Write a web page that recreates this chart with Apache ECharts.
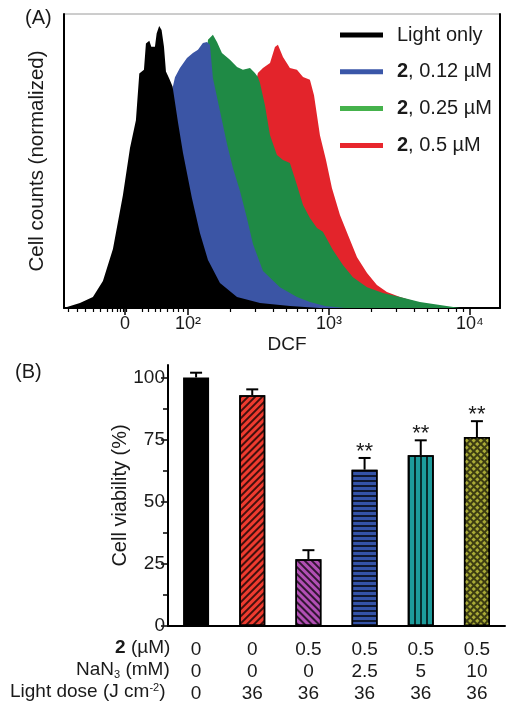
<!DOCTYPE html>
<html><head><meta charset="utf-8">
<script src="https://cdn.jsdelivr.net/npm/echarts@6/dist/echarts.min.js"></script>
<style>html,body{margin:0;padding:0;background:#fff}#c{width:507px;height:706px}</style>
</head><body><div id="c"></div>
<script>
// ---------- Panel A: DCF histograms (x in display decades: 10^2 -> 2, 10^3 -> 3, 10^4 -> 4, "0" -> 1.553) ----------
const lightOnly = [[1.121,0],[1.142,0.3],[1.234,1.7],[1.326,3.7],[1.397,9.2],[1.468,20.1],[1.539,38.4],[1.589,54.4],[1.631,63.9],[1.655,79.8],[1.688,81.0],[1.702,90.0],[1.726,90.9],[1.740,88.9],[1.766,88.9],[1.778,93.4],[1.796,95.9],[1.813,94.6],[1.830,88.9],[1.844,80.4],[1.867,78.1],[1.891,75.3],[1.929,63.3],[1.965,52.7],[2.028,37.4],[2.085,25.5],[2.142,16.3],[2.227,8.5],[2.348,3.7],[2.511,1.7],[2.723,0.7],[2.936,0]];
const dose012 = [[1.447,0],[1.553,1.4],[1.660,5.4],[1.745,16.3],[1.816,36.7],[1.858,60.5],[1.887,74.0],[1.908,78.5],[1.943,81.6],[1.993,85.0],[2.035,86.7],[2.071,87.8],[2.106,90.1],[2.135,90.5],[2.156,89.5],[2.177,78.2],[2.227,67.0],[2.277,55.8],[2.319,47.6],[2.369,39.8],[2.418,30.6],[2.461,21.8],[2.532,12.6],[2.652,7.1],[2.773,3.7],[2.865,2.0],[2.972,0.7],[3.113,0]];
const dose025 = [[1.730,0],[1.872,2.7],[1.979,12.9],[2.050,36.7],[2.106,70.7],[2.142,91.2],[2.177,92.9],[2.206,90.5],[2.241,86.7],[2.298,84.4],[2.348,82.0],[2.390,81.0],[2.440,81.6],[2.475,79.9],[2.496,78.6],[2.511,76.5],[2.546,69.0],[2.582,58.8],[2.631,52.0],[2.674,50.3],[2.723,49.3],[2.773,41.8],[2.816,35.0],[2.865,30.6],[2.915,27.2],[2.957,25.9],[3.028,19.7],[3.099,14.6],[3.170,10.5],[3.270,7.1],[3.383,5.1],[3.504,3.7],[3.645,2.0],[3.787,1.0],[3.929,0]];
const dose05 = [[2.085,0],[2.227,6.1],[2.333,29.9],[2.404,53.7],[2.454,70.7],[2.496,79.9],[2.532,81.6],[2.582,83.3],[2.617,88.8],[2.638,89.5],[2.674,85.4],[2.723,81.6],[2.773,81.0],[2.816,78.6],[2.865,77.6],[2.894,72.4],[2.936,58.8],[2.979,50.3],[3.021,40.8],[3.078,31.6],[3.135,24.8],[3.199,17.3],[3.270,11.9],[3.340,7.8],[3.411,5.4],[3.504,3.7],[3.645,1.7],[3.787,0]];
const seriesNamesA = ['Light only', '2, 0.12 µM', '2, 0.25 µM', '2, 0.5 µM'];
const majorTickPos = [1.553, 2, 3, 4];
const majorTickLabels = ['0', '10²', '10³', '10⁴'];
const linearMinorTicks = [1.149,1.213,1.270,1.326,1.376,1.426,1.461,1.496,1.518,1.540,1.566,1.674,1.716,1.766,1.801,1.851,1.894,1.929,1.965];
const logMinorMultipliers = [2,3,4,5,6,7,8,9];

// ---------- Panel B: cell viability ----------
const groups = ['Dark control', 'Light', '2 + light', '2 + light + 2.5 mM NaN3', '2 + light + 5 mM NaN3', '2 + light + 10 mM NaN3'];
const viability = [100, 92.8, 26.9, 62.9, 68.7, 76.0];
const viabilityErr = [1.9, 2.4, 3.6, 4.7, 6.0, 6.4];
const significance = ['', '', '', '**', '**', '**'];
const compound2uM = ['0', '0', '0.5', '0.5', '0.5', '0.5'];
const nan3mM = ['0', '0', '0', '2.5', '5', '10'];
const lightDose = ['0', '36', '36', '36', '36', '36'];
const yMajor = [0, 25, 50, 75, 100];
const yMinor = [12.5, 37.5, 62.5, 87.5];

// ---------- styles ----------
const FONT = "'Liberation Sans', Arial, Helvetica, sans-serif";
const TXT = '#1a1a1a';
const fillA = ['#000000', '#3b55a5', '#1f8a45', '#e3242b'];
const legendA = ['#000000', '#3a56a8', '#45b24c', '#e8262d'];
const barColors = ['#000000', '#ef3b2f', '#b24fb4', '#3453a8', '#1d9b9b', '#3d3d12'];
const hatch = 'rgba(0,0,0,0.72)';
const decals = [
  null,
  {symbol: 'rect', symbolSize: 1, dashArrayX: [1, 0], dashArrayY: [1.3, 2.9], rotation: -Math.PI / 4, color: hatch},
  {symbol: 'rect', symbolSize: 1, dashArrayX: [1, 0], dashArrayY: [1.3, 2.9], rotation: Math.PI / 4, color: hatch},
  {symbol: 'rect', symbolSize: 1, dashArrayX: [1, 0], dashArrayY: [1.3, 2.5], rotation: 0, color: hatch},
  {symbol: 'rect', symbolSize: 1, dashArrayX: [1.3, 3.2], dashArrayY: [1, 0], rotation: 0, color: hatch},
  {symbol: 'rect', symbolSize: 1, dashArrayX: [2.6, 1.3], dashArrayY: [2.6, 1.3], rotation: Math.PI / 4, color: '#a9ab36'}
];

const logMinorTicks = [];
[2, 3].forEach(d => logMinorMultipliers.forEach(k => logMinorTicks.push(Math.log10(k) + d)));

const chart = echarts.init(document.getElementById('c'), null, {renderer: 'canvas'});

const histSeries = [lightOnly, dose012, dose025, dose05].map((d, i) => ({
  name: seriesNamesA[i], type: 'line', xAxisIndex: 0, yAxisIndex: 0,
  data: d, symbol: 'none', showSymbol: false, smooth: false,
  lineStyle: {width: 0}, itemStyle: {color: legendA[i]},
  areaStyle: {color: fillA[i], opacity: 1}, z: 10 - i, silent: true
}));

const barData = viability.map((v, i) => {
  const st = {color: barColors[i], borderColor: '#000', borderWidth: 1.5};
  if (decals[i]) st.decal = decals[i];
  return {value: v, itemStyle: st};
});

const tok = (extra) => Object.assign({fontSize: 19, lineHeight: 20, fontFamily: FONT, fill: TXT}, extra || {});
const plain = (text, x, y, weight) => ({type: 'text', x: x, y: y,
  style: {text: text, align: 'left', verticalAlign: 'middle', fontSize: 19, fontWeight: weight || 'normal', fontFamily: FONT, fill: TXT}});

const option = {
  animation: false,
  textStyle: {fontFamily: FONT, color: TXT},
  grid: [
    {left: 64, right: 7, top: 14, bottom: 398, show: true, borderColor: '#9a9a9a', borderWidth: 1},
    {left: 168, right: 2, top: 365, bottom: 80}
  ],
  legend: {
    orient: 'vertical', left: 340, top: 25, padding: 0, itemWidth: 43, itemHeight: 5, itemGap: 16.8, icon: 'rect',
    data: seriesNamesA.map((n, i) => ({name: n, itemStyle: {color: legendA[i]}})),
    formatter: n => n.replace(/^2,/, '{b|2},'),
    textStyle: {fontSize: 20, lineHeight: 20, color: TXT, fontFamily: FONT, padding: [0, 0, 0, 9],
      rich: {b: {fontWeight: 'bold', fontSize: 20, lineHeight: 20, color: TXT, fontFamily: FONT}}}
  },
  xAxis: [
    {type: 'value', gridIndex: 0, min: 1.121, max: 4.213, position: 'bottom',
      name: 'DCF', nameLocation: 'middle', nameGap: 27, nameTextStyle: {fontSize: 19, color: TXT, padding: [0, 0, 0, 10]},
      axisLine: {show: true, onZero: false, lineStyle: {color: '#000', width: 2}},
      axisTick: {show: true, customValues: majorTickPos, length: 7, lineStyle: {color: '#000', width: 1.5}},
      axisLabel: {customValues: majorTickPos, margin: 7, fontSize: 18, color: TXT,
        formatter: v => { const k = majorTickPos.findIndex(p => Math.abs(p - v) < 1e-6); return k < 0 ? '' : majorTickLabels[k]; }},
      splitLine: {show: false}},
    // minor ticks: second x axis is placed on top, then moved down onto the bottom axis line
    {type: 'value', gridIndex: 0, min: 1.121, max: 4.213, position: 'top', offset: -294,
      axisLine: {show: false, onZero: false},
      axisTick: {show: true, inside: true, customValues: linearMinorTicks.concat(logMinorTicks), length: 4, lineStyle: {color: '#000', width: 1.2}},
      axisLabel: {show: false}, splitLine: {show: false}},
    {type: 'category', gridIndex: 1, data: groups,
      axisLine: {show: true, lineStyle: {color: '#000', width: 2}},
      axisTick: {show: false},
      axisLabel: {interval: 0, margin: 13, fontSize: 19, lineHeight: 22, color: TXT,
        formatter: (v, i) => [compound2uM[i], nan3mM[i], lightDose[i]].join('\n')}}
  ],
  yAxis: [
    {type: 'value', gridIndex: 0, min: 0, max: 100,
      name: 'Cell counts (normalized)', nameLocation: 'middle', nameGap: 16, nameTextStyle: {fontSize: 20.5, color: TXT},
      axisLine: {show: true, lineStyle: {color: '#000', width: 2}}, axisTick: {show: false}, axisLabel: {show: false}, splitLine: {show: false}},
    {type: 'value', gridIndex: 0, min: 0, max: 100, position: 'right',
      axisLine: {show: true, lineStyle: {color: '#000', width: 2}}, axisTick: {show: false}, axisLabel: {show: false}, splitLine: {show: false}},
    {type: 'value', gridIndex: 1, min: 0, max: 105, position: 'left',
      name: 'Cell viability (%)', nameLocation: 'middle', nameGap: 38, nameMoveOverlap: false, nameTextStyle: {fontSize: 20, color: TXT},
      axisLine: {show: true, lineStyle: {color: '#000', width: 2}},
      axisTick: {show: true, customValues: yMajor, length: 7, lineStyle: {color: '#000', width: 1.5}},
      axisLabel: {customValues: yMajor, margin: 3, fontSize: 19, color: TXT},
      splitLine: {show: false}},
    // minor ticks: second y axis is placed right, then moved onto the left axis line
    {type: 'value', gridIndex: 1, min: 0, max: 105, position: 'right', offset: -337,
      axisLine: {show: false},
      axisTick: {show: true, inside: true, customValues: yMinor, length: 5, lineStyle: {color: '#000', width: 1.5}},
      axisLabel: {show: false}, splitLine: {show: false}}
  ],
  series: histSeries.concat([
    {type: 'bar', xAxisIndex: 2, yAxisIndex: 2, barWidth: 26, silent: true, data: barData},
    {type: 'custom', xAxisIndex: 2, yAxisIndex: 2, silent: true, z: 5,
      encode: {x: 0, y: 1},
      data: viability.map((v, i) => [i, v, viabilityErr[i]]),
      renderItem: (params, api) => {
        const i = api.value(0), v = api.value(1), e = api.value(2);
        const p0 = api.coord([i, v]), p1 = api.coord([i, v + e]);
        const ch = [
          {type: 'line', shape: {x1: p0[0], y1: p0[1], x2: p1[0], y2: p1[1]}, style: {stroke: '#000', lineWidth: 2}},
          {type: 'line', shape: {x1: p1[0] - 6, y1: p1[1], x2: p1[0] + 6, y2: p1[1]}, style: {stroke: '#000', lineWidth: 2}}
        ];
        const s = significance[params.dataIndex];
        if (s) ch.push({type: 'text', style: {text: s, x: p1[0], y: p1[1] - 6, align: 'center', verticalAlign: 'middle',
          fontSize: 22, fontFamily: FONT, fill: TXT}});
        return {type: 'group', children: ch};
      }}
  ]),
  graphic: [
    {type: 'text', left: 25, top: 8, style: {text: '(A)', fontSize: 20, fontFamily: FONT, fill: TXT}},
    {type: 'text', left: 15, top: 362, style: {text: '(B)', fontSize: 20, fontFamily: FONT, fill: TXT}},
    // table row headers
    plain('2', 115, 648, 'bold'),
    plain(' (µM)', 125.6, 648),
    {type: 'text', x: 76, y: 670, style: {text: '{n|NaN}{s|3}{n| (mM)}', align: 'left', verticalAlign: 'middle', fontSize: 19, lineHeight: 20, fontFamily: FONT, fill: TXT,
      rich: {n: tok(), s: tok({fontSize: 11, verticalAlign: 'bottom', padding: [7, 0, 0, 0]})}}},
    {type: 'text', x: 10, y: 692, style: {text: '{n|Light dose (J cm}{p|-2}{n|)}', align: 'left', verticalAlign: 'middle', fontSize: 19, lineHeight: 20, fontFamily: FONT, fill: TXT,
      rich: {n: tok(), p: tok({fontSize: 11, verticalAlign: 'top', padding: [0, 0, 7, 0]})}}}
  ]
};
chart.setOption(option);
</script></body></html>
